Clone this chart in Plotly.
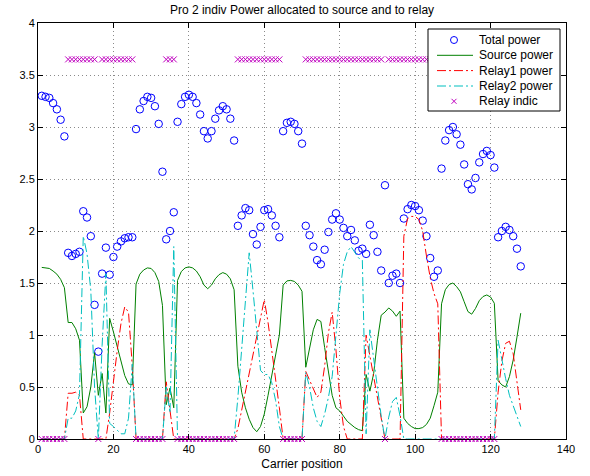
import plotly.graph_objects as go

carriers = list(range(1, 129))

total_power = [3.30, 3.29, 3.28, 3.23, 3.17, 3.07, 2.91, 1.79, 1.76, 1.78,
               1.80, 2.19, 2.13, 1.95, 1.29, 0.84, 1.59, 1.84, 1.58, 1.75,
               1.85, 1.90, 1.93, 1.94, 1.94, 2.98, 3.17, 3.25, 3.29, 3.28,
               3.20, 3.03, 2.57, 1.92, 2.00, 2.18, 3.05, 3.22, 3.29, 3.31,
               3.29, 3.23, 3.12, 2.96, 2.89, 2.96, 3.08, 3.16, 3.20, 3.17,
               3.08, 2.87, 2.05, 2.15, 2.22, 2.20, 1.97, 1.87, 2.04, 2.20,
               2.21, 2.15, 2.05, 1.94, 2.96, 3.04, 3.05, 3.03, 2.96, 2.84,
               2.05, 1.96, 1.85, 1.72, 1.68, 1.82, 1.99, 2.11, 2.17, 2.11,
               2.03, 1.95, 2.01, 1.91, 1.81, 1.83, 1.78, 2.06, 1.96, 1.80,
               1.62, 2.44, 1.50, 1.57, 1.59, 1.50, 2.12, 2.21, 2.25, 2.24,
               2.20, 2.10, 1.95, 1.74, 1.56, 1.62, 2.60, 2.87, 2.97, 3.00,
               2.93, 2.83, 2.64, 2.45, 2.40, 2.51, 2.66, 2.74, 2.77, 2.73,
               2.61, 1.94, 2.00, 2.04, 2.01, 1.95, 1.83, 1.66]

source_power = [1.65, 1.645, 1.64, 1.615, 1.585, 1.535, 1.455, 1.12, 1.12, 1.06,
                0.95, 0.25, 0.31, 0.50, 0.83, 0.42, 0.63, 0.25, 1.16, 1.03,
                0.90, 0.75, 0.61, 0.53, 0.52, 1.49, 1.585, 1.625, 1.645, 1.64,
                1.60, 1.515, 1.285, 0.33, 0.49, 0.30, 1.525, 1.61, 1.645, 1.655,
                1.645, 1.615, 1.56, 1.48, 1.445, 1.48, 1.54, 1.58, 1.60, 1.585,
                1.54, 1.435, 0.70, 0.45, 0.30, 0.19, 0.11, 0.07, 0.12, 0.24,
                0.42, 0.61, 0.80, 1.00, 1.48, 1.52, 1.525, 1.515, 1.48, 1.42,
                0.69, 0.88, 1.05, 1.15, 1.13, 0.88, 0.63, 0.42, 0.30, 0.27,
                0.22, 0.17, 0.14, 0.11, 0.09, 0.08, 0.62, 0.46, 0.63, 0.95,
                1.19, 1.22, 1.26, 1.23, 1.18, 1.23, 0.20, 0.15, 0.12, 0.10,
                0.10, 0.11, 0.14, 0.20, 0.32, 0.45, 1.30, 1.435, 1.485, 1.50,
                1.465, 1.415, 1.32, 1.225, 1.20, 1.255, 1.33, 1.37, 1.385, 1.365,
                1.305, 0.56, 0.52, 0.50, 0.60, 0.76, 0.98, 1.21]

relay1_power = [0, 0, 0, 0, 0, 0, 0, 0.44, 0.44, 0.45,
                0.42, 0, 0, 0, 0, 0, 0, 0, 0.25, 0.57,
                0.85, 1.11, 1.27, 1.22, 0.70, 0, 0, 0, 0, 0,
                0, 0, 0, 0.55, 0.25, 0, 0, 0, 0, 0,
                0, 0, 0, 0, 0, 0, 0, 0, 0, 0,
                0, 0, 0.10, 0.28, 0.44, 0.63, 0.82, 0.98, 1.16, 1.34,
                1.12, 0.86, 0.58, 0.30, 0, 0, 0, 0, 0, 0,
                0.65, 0.57, 0.48, 0.40, 0.45, 0.70, 1.02, 1.22, 0.86, 0.40,
                0.12, 0, 0, 0, 0, 0, 1.00, 0.80, 0.60, 0.40,
                0.20, 0, 0, 0, 0, 0, 1.95, 2.12, 2.14, 2.14,
                2.11, 2.00, 1.76, 1.55, 1.40, 1.30, 0, 0, 0, 0,
                0, 0, 0, 0, 0, 0, 0, 0, 0, 0,
                0, 0.45, 0.75, 0.92, 0.94, 0.82, 0.55, 0.28]

relay2_power = [0, 0, 0, 0, 0, 0, 0, 0.20, 0.20, 0.27,
                0.43, 1.95, 1.78, 1.43, 0.50, 0, 0.90, 1.59, 0.15, 0.12,
                0.08, 0.05, 0.05, 0.20, 0.72, 0, 0, 0, 0, 0,
                0, 0, 0, 0.50, 0.25, 1.85, 0, 0, 0, 0,
                0, 0, 0, 0, 0, 0, 0, 0, 0, 0,
                0, 0, 0.40, 0.86, 1.32, 1.79, 1.43, 1.02, 0.66, 0.62,
                0.62, 0.54, 0.37, 0.12, 0, 0, 0, 0, 0, 0,
                0.64, 0.50, 0.30, 0.17, 0.12, 0.24, 0.40, 0.60, 1.00, 1.40,
                1.68, 1.80, 1.85, 1.80, 1.74, 1.72, 0.05, 1.05, 0.78, 0.48,
                0.22, 0, 0.21, 0.36, 0.40, 0.22, 0, 0, 0, 0,
                0, 0, 0, 0, 0, 0, 0, 0, 0, 0,
                0, 0, 0, 0, 0, 0, 0, 0, 0, 0,
                0, 0.95, 0.75, 0.58, 0.42, 0.32, 0.22, 0.12]

H = 3.65
relay_indic = [0, 0, 0, 0, 0, 0, 0, H, H, H,
               H, H, H, H, H, 0, H, H, H, H,
               H, H, H, H, H, 0, 0, 0, 0, 0,
               0, 0, 0, H, H, H, 0, 0, 0, 0,
               0, 0, 0, 0, 0, 0, 0, 0, 0, 0,
               0, 0, H, H, H, H, H, H, H, H,
               H, H, H, H, 0, 0, 0, 0, 0, 0,
               H, H, H, H, H, H, H, H, H, H,
               H, H, H, H, H, H, H, H, H, H,
               H, 0, H, H, H, H, H, H, H, H,
               H, H, H, H, H, H, 0, 0, 0, 0,
               0, 0, 0, 0, 0, 0, 0, 0, 0, 0,
               0, H, H, H, H, H, H, H]

series_names = ["Total power", "Source power", "Relay1 power", "Relay2 power", "Relay indic"]

FONT = "Liberation Sans, Arial, Helvetica, sans-serif"
BLUE, GREEN, RED, CYAN, MAGENTA = "#0000ff", "#008000", "#ff0000", "#00bfbf", "#bf00bf"
DASHDOT = "9px,3px,2px,3px"

# figure geometry (pixels)
W, HGT = 590, 476
ML, MR, MT, MB = 38, 24, 23, 37
PW, PH = W - ML - MR, HGT - MT - MB


def px_x(px):
    return (px - ML) / PW


def px_y(py):
    return (HGT - MB - py) / PH


fig = go.Figure()
fig.add_trace(go.Scatter(x=carriers, y=total_power, mode="markers", name=series_names[0],
                         marker=dict(symbol="circle-open", size=7.5, color=BLUE,
                                     line=dict(width=1, color=BLUE))))
fig.add_trace(go.Scatter(x=carriers, y=source_power, mode="lines", name=series_names[1],
                         line=dict(color=GREEN, width=1)))
fig.add_trace(go.Scatter(x=carriers, y=relay1_power, mode="lines", name=series_names[2],
                         line=dict(color=RED, width=1, dash=DASHDOT)))
fig.add_trace(go.Scatter(x=carriers, y=relay2_power, mode="lines", name=series_names[3],
                         line=dict(color=CYAN, width=1, dash=DASHDOT)))
fig.add_trace(go.Scatter(x=carriers, y=relay_indic, mode="markers", name=series_names[4],
                         cliponaxis=False,
                         marker=dict(symbol="x-thin-open", size=6, color=MAGENTA,
                                     line=dict(width=1, color=MAGENTA))))

# MATLAB-style legend box (drawn over the data, like the original)
shapes = []
annotations = []
box_l, box_r, box_t, box_b = 428, 560, 29, 111
shapes.append(dict(type="rect", xref="paper", yref="paper", layer="above",
                   x0=px_x(box_l), x1=px_x(box_r), y0=px_y(box_b), y1=px_y(box_t),
                   fillcolor="white", line=dict(color="black", width=1)))
row_y = [40, 55.3, 70.6, 86, 101.3]
sym_cx, line_l, line_r, text_x = 454, 437, 473, 477
for i, name in enumerate(series_names):
    yy = px_y(row_y[i])
    if i == 0:
        shapes.append(dict(type="circle", xref="paper", yref="paper", layer="above",
                           xsizemode="pixel", ysizemode="pixel",
                           xanchor=px_x(sym_cx), yanchor=yy,
                           x0=-3.5, x1=3.5, y0=-3.5, y1=3.5,
                           line=dict(color=BLUE, width=1)))
    elif i == 4:
        for d in (1, -1):
            shapes.append(dict(type="line", xref="paper", yref="paper", layer="above",
                               xsizemode="pixel", ysizemode="pixel",
                               xanchor=px_x(sym_cx), yanchor=yy,
                               x0=-2.5, x1=2.5, y0=-2.5 * d, y1=2.5 * d,
                               line=dict(color=MAGENTA, width=1)))
    else:
        col = [None, GREEN, RED, CYAN][i]
        dash = "solid" if i == 1 else DASHDOT
        shapes.append(dict(type="line", xref="paper", yref="paper", layer="above",
                           x0=px_x(line_l), x1=px_x(line_r), y0=yy, y1=yy,
                           line=dict(color=col, width=1, dash=dash)))
    annotations.append(dict(text=name, xref="paper", yref="paper",
                            x=px_x(text_x), y=yy, xanchor="left", yanchor="middle",
                            showarrow=False,
                            font=dict(family=FONT, size=12, color="black")))

axis_common = dict(showline=True, linecolor="black", linewidth=1, mirror="ticks",
                   ticks="inside", ticklen=5, tickcolor="black",
                   showgrid=True, gridcolor="#8a8a8a", griddash="1px,3px", gridwidth=1,
                   zeroline=False, automargin=False,
                   tickfont=dict(family=FONT, size=11, color="black"))

fig.update_layout(
    width=W, height=HGT,
    margin=dict(l=ML, r=MR, t=MT, b=MB, autoexpand=False),
    paper_bgcolor="white", plot_bgcolor="white",
    font=dict(family=FONT, size=12, color="black"),
    title=dict(text="Pro 2 indiv Power allocated to source and to relay",
               x=0.5, xref="paper", xanchor="center",
               y=1 - 10 / HGT, yref="container", yanchor="middle",
               font=dict(family=FONT, size=12, color="black")),
    xaxis=dict(range=[0, 140], dtick=20, tick0=0,
               title=dict(text="Carrier position", standoff=5,
                          font=dict(family=FONT, size=12, color="black")),
               **axis_common),
    yaxis=dict(range=[0, 4], dtick=0.5, tick0=0, **axis_common),
    showlegend=False,
    hovermode=False,
    shapes=shapes,
    annotations=annotations,
)

fig.write_html("out.html",
               config={"displayModeBar": False, "staticPlot": True},
               post_script="document.body.style.margin='0px';"
                           "document.body.style.overflow='hidden';")
